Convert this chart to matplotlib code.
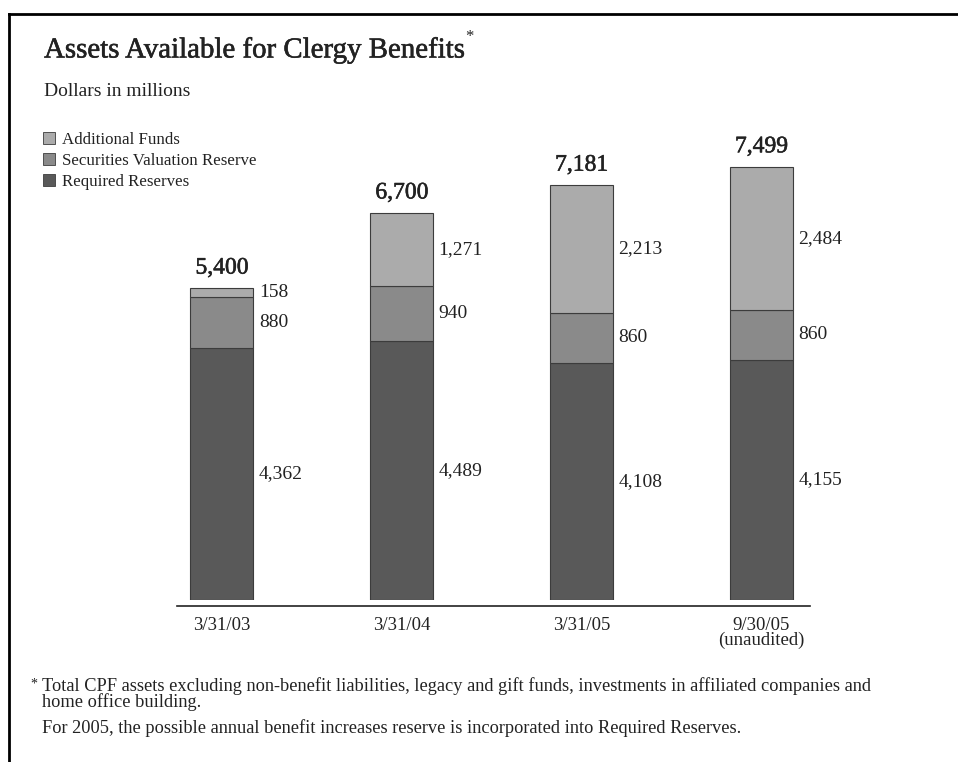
import matplotlib.pyplot as plt
import matplotlib.patheffects as pe
from matplotlib.patches import Patch
from matplotlib.lines import Line2D

plt.rcParams['font.family'] = ['Liberation Serif', 'DejaVu Serif']

# values in $ millions
dates = ['3/31/03', '3/31/04', '3/31/05', '9/30/05\n(unaudited)']
required = [4362, 4489, 4108, 4155]
securities = [880, 940, 860, 860]
additional = [158, 1271, 2213, 2484]
totals = [5400, 6700, 7181, 7499]

colors = {'required': '#595959', 'securities': '#8a8a8a', 'additional': '#ababab'}
edge = '#3c3c3c'
text_col = '#222222'
heavy = [pe.withStroke(linewidth=0.4, foreground=text_col)]

W, H = 958, 762
fig = plt.figure(figsize=(W / 100, H / 100), dpi=100)

# plot area in pixel terms
left, right, top, bottom = 177, 810, 100, 600
ax = fig.add_axes([left / W, 1 - bottom / H, (right - left) / W, (bottom - top) / H])

# spine first: set_position resets the tick labels
for s in ['left', 'right', 'top']:
    ax.spines[s].set_visible(False)
ax.spines['bottom'].set_position(('outward', 4))
ax.spines['bottom'].set_color('#222222')
ax.spines['bottom'].set_linewidth(1.2)

x = list(range(len(dates)))
bw = 0.35
ax.bar(x, required, bw, color=colors['required'], edgecolor=edge, lw=0.8)
bot2 = required
ax.bar(x, securities, bw, bottom=bot2, color=colors['securities'], edgecolor=edge, lw=0.8)
bot3 = [r + s for r, s in zip(required, securities)]
ax.bar(x, additional, bw, bottom=bot3, color=colors['additional'], edgecolor=edge, lw=0.8)

# segment labels to the right of each bar, totals on top
for i in x:
    lx = i + bw / 2 + 0.03
    ax.text(lx, required[i] / 2, f'{required[i]:,}', ha='left', va='center', fontsize=14, color=text_col)
    ax.text(lx, bot3[i] - securities[i] / 2, f'{securities[i]:,}', ha='left', va='center', fontsize=14, color=text_col)
    ax.text(lx, bot3[i] + additional[i] / 2, f'{additional[i]:,}', ha='left', va='center', fontsize=14, color=text_col)
    ax.text(i, totals[i] + 160, f'{totals[i]:,}', ha='center', va='bottom', fontsize=17,
            color=text_col, path_effects=heavy)

ax.set_xlim(-0.25, 3.27)
ax.set_ylim(0, 8650)
ax.tick_params(axis='x', length=0, pad=8)
ax.set_xticks(x)
ax.set_xticklabels(dates, fontsize=13.5, color=text_col, linespacing=0.88)
ax.set_yticks([])

# titles
title = fig.text(44 / W, 1 - 50 / H, 'Assets Available for Clergy Benefits', fontsize=20.8,
                 color=text_col, va='center', ha='left', path_effects=heavy)
fig.canvas.draw()
tb = title.get_window_extent().transformed(fig.transFigure.inverted())
fig.text(tb.x1 + 1 / W, 1 - 37 / H, '*', fontsize=12, color=text_col, va='center', ha='left')
fig.text(44 / W, 1 - 92 / H, 'Dollars in millions', fontsize=14, color=text_col, va='center', ha='left')

# legend
handles = [Patch(facecolor=colors['additional'], edgecolor=edge, lw=0.6),
           Patch(facecolor=colors['securities'], edgecolor=edge, lw=0.6),
           Patch(facecolor=colors['required'], edgecolor=edge, lw=0.6)]
labels = ['Additional Funds', 'Securities Valuation Reserve', 'Required Reserves']
fig.legend(handles, labels, loc='upper left', bbox_to_anchor=(43 / W, 1 - 132 / H), frameon=False,
           fontsize=12.2, handlelength=0.7, handleheight=0.7, handletextpad=0.4,
           labelspacing=0.3, borderaxespad=0, borderpad=0, labelcolor=text_col)

# footnotes
fig.text(30 / W, 1 - 684 / H, '*', fontsize=10, color=text_col, va='center', ha='left')
fig.text(42 / W, 1 - 694 / H,
         'Total CPF assets excluding non-benefit liabilities, legacy and gift funds, investments in affiliated companies and\n'
         'home office building.', fontsize=13.2, color=text_col, va='center', ha='left', linespacing=0.85)
fig.text(42 / W, 1 - 728 / H,
         'For 2005, the possible annual benefit increases reserve is incorporated into Required Reserves.',
         fontsize=13.2, color=text_col, va='center', ha='left')

# frame lines along top and left
fig.add_artist(Line2D([9 / W, 1], [1 - 14 / H, 1 - 14 / H], color='black', lw=2))
fig.add_artist(Line2D([9 / W, 9 / W], [0, 1 - 14 / H], color='black', lw=2))

fig.savefig('out.png', dpi=100)
